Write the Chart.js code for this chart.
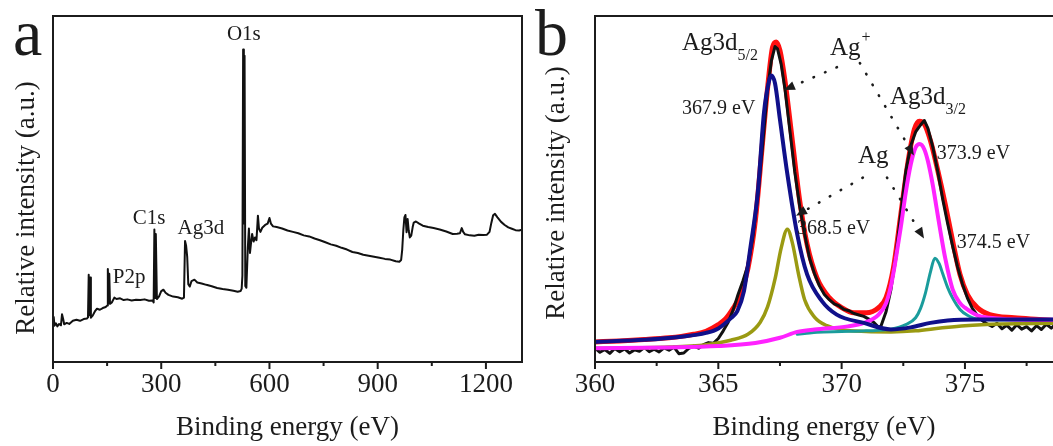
<!DOCTYPE html>
<html lang="en">
<head>
<meta charset="UTF-8">
<title>XPS survey and Ag 3d</title>
<script src="https://cdn.jsdelivr.net/npm/chart.js"></script>
<style>
  html, body { margin: 0; padding: 0; background: #fff; width: 1053px; height: 446px; overflow: hidden; }
  canvas { position: absolute; top: 0; }
  #survey { left: 0; }
  #ag3d { left: 530px; }
</style>
</head>
<body>
<canvas id="survey" width="530" height="446"></canvas>
<canvas id="ag3d" width="523" height="446"></canvas>
<script>
// ---- panel a : survey scan ----
const surveyTicks = [0, 300, 600, 900, 1200];
const surveyEnergy = [0, 2, 4, 8, 12, 17, 22, 25, 28, 31, 38, 45, 55, 65, 75, 85, 94, 97, 99, 101, 103, 105, 110, 116, 122, 130, 138, 146, 150, 152, 154, 156, 158, 163, 170, 176, 186, 196, 206, 218, 230, 242, 254, 266, 276, 279, 281, 283, 285, 288, 294, 300, 306, 312, 320, 333, 346, 358, 363, 366, 369, 372, 375, 379, 384, 392, 400, 412, 425, 440, 455, 470, 485, 500, 512, 520, 523, 525, 527, 529, 531, 533, 536, 540, 543, 546, 549, 552, 556, 560, 564, 568, 571, 575, 580, 588, 595, 600, 604, 610, 620, 635, 650, 665, 680, 695, 710, 725, 740, 755, 770, 785, 800, 815, 830, 845, 860, 875, 890, 905, 920, 935, 950, 960, 965, 968, 971, 974, 977, 980, 983, 986, 989, 993, 997, 1000, 1006, 1015, 1025, 1040, 1055, 1072, 1090, 1108, 1120, 1128, 1133, 1137, 1142, 1155, 1168, 1180, 1192, 1203, 1210, 1215, 1220, 1225, 1232, 1242, 1252, 1262, 1272, 1282, 1292, 1300];
const surveyIntensity = [12.0, 13.0, 10.5, 11.2, 10.3, 11.0, 10.6, 13.8, 12.5, 10.9, 11.3, 11.0, 11.9, 12.2, 11.9, 12.4, 12.6, 12.9, 25.2, 13.5, 24.4, 12.8, 13.4, 14.6, 15.4, 15.1, 15.6, 15.9, 16.3, 26.9, 17.0, 25.5, 16.8, 17.2, 18.6, 18.2, 18.4, 17.9, 18.1, 17.8, 18.0, 17.9, 18.1, 17.7, 17.8, 17.2, 38.3, 18.5, 37.0, 18.2, 19.0, 20.5, 20.9, 20.0, 19.4, 18.9, 18.7, 18.3, 18.6, 35.0, 33.6, 30.4, 22.5, 21.8, 23.4, 23.8, 23.0, 22.7, 22.3, 21.9, 21.4, 21.1, 20.9, 20.6, 20.3, 20.5, 21.2, 25.0, 90.3, 40.0, 88.5, 22.0, 21.5, 33.0, 38.6, 31.5, 34.5, 37.0, 34.8, 36.0, 35.2, 42.3, 38.5, 37.6, 38.8, 39.6, 40.0, 41.6, 40.0, 39.2, 39.0, 38.6, 38.0, 37.6, 37.2, 36.6, 36.3, 35.7, 35.2, 34.6, 34.0, 33.6, 33.0, 32.5, 31.8, 31.5, 31.0, 30.7, 30.4, 30.1, 29.8, 29.6, 29.1, 29.0, 29.5, 32.5, 38.0, 41.8, 42.5, 37.5, 41.3, 38.0, 36.0, 36.5, 39.0, 40.3, 40.6, 40.0, 39.4, 39.0, 38.7, 38.3, 37.7, 37.0, 37.1, 37.2, 38.7, 37.6, 36.9, 36.6, 36.5, 36.8, 36.7, 36.8, 37.6, 40.2, 42.4, 42.8, 41.8, 40.5, 39.6, 38.9, 38.5, 38.1, 38.0, 38.2];

// ---- panel b : Ag 3d high resolution ----
const ag3dTicks = [360, 365, 370, 375];
// measured data (black)
const dataEnergy = [360.0, 360.2, 360.4, 360.6, 360.8, 361.0, 361.2, 361.4, 361.6, 361.8, 362.0, 362.2, 362.4, 362.6, 362.8, 363.0, 363.2, 363.4, 363.6, 363.8, 364.0, 364.2, 364.4, 364.6, 364.8, 365.0, 365.2, 365.4, 365.6, 365.8, 366.0, 366.2, 366.4, 366.6, 366.8, 367.0, 367.15, 367.3, 367.4, 367.55, 367.7, 367.9, 368.1, 368.3, 368.5, 368.7, 368.9, 369.1, 369.3, 369.5, 369.7, 369.9, 370.1, 370.3, 370.5, 370.7, 370.9, 371.1, 371.3, 371.5, 371.6, 371.8, 372.0, 372.2, 372.4, 372.6, 372.8, 373.0, 373.2, 373.35, 373.5, 373.7, 373.9, 374.1, 374.3, 374.5, 374.7, 374.9, 375.1, 375.3, 375.5, 375.7, 375.9, 376.1, 376.3, 376.5, 376.7, 376.9, 377.1, 377.3, 377.5, 377.7, 377.9, 378.1, 378.3, 378.5, 378.6];
const dataIntensity = [4.0, 2.8, 3.6, 2.5, 3.9, 3.0, 3.8, 2.6, 3.5, 3.1, 4.2, 3.0, 3.7, 2.9, 4.1, 3.4, 4.3, 2.4, 2.6, 3.9, 4.6, 4.0, 5.0, 5.6, 5.4, 6.8, 9.0, 11.5, 15.0, 19.5, 23.5, 28.0, 36.0, 48.0, 63.0, 79.0, 87.0, 91.2, 90.5, 86.0, 79.0, 67.0, 55.0, 45.0, 37.0, 30.0, 25.5, 22.0, 19.5, 18.0, 16.8, 16.2, 15.2, 14.8, 14.0, 13.6, 13.2, 12.4, 11.5, 10.0, 10.5, 14.5, 21.0, 31.0, 43.0, 55.0, 62.5, 66.5, 68.5, 69.8, 67.5, 62.0, 55.0, 47.0, 40.0, 33.5, 27.5, 22.5, 18.5, 15.5, 13.5, 12.0, 11.0, 10.3, 11.2, 9.6, 10.6, 9.2, 10.8, 9.5, 10.2, 9.0, 10.5, 9.4, 10.9, 9.8, 10.4];
// fitted envelope (red)
const envelopeEnergy = [360, 361, 362, 363, 363.5, 364, 364.5, 365, 365.3, 365.6, 365.9, 366.2, 366.5, 366.8, 367.0, 367.2, 367.35, 367.5, 367.7, 368.0, 368.3, 368.6, 369.0, 369.5, 370, 370.5, 371, 371.5, 371.8, 372.1, 372.4, 372.7, 372.95, 373.15, 373.35, 373.6, 373.9, 374.2, 374.5, 374.8, 375.1, 375.5, 376, 377, 378, 378.6];
const envelopeIntensity = [5.8, 6.1, 6.5, 7.0, 7.4, 8.0, 8.9, 10.8, 12.5, 15.5, 19.5, 27.0, 40.8, 64.0, 79.4, 91.0, 92.5, 90.0, 81.4, 64.0, 46.6, 34.0, 24.3, 18.6, 15.7, 14.2, 14.2, 15.7, 18.6, 27.2, 42.7, 58.2, 67.3, 69.6, 68.8, 64.0, 55.3, 45.6, 35.0, 25.3, 19.5, 15.7, 13.7, 12.8, 12.3, 12.0];
// Ag+ 3d5/2 (blue)
const agIon52Energy = [360, 362, 363.5, 364.5, 365, 365.5, 365.77, 366.04, 366.3, 366.6, 366.85, 367.05, 367.15, 367.3, 367.5, 367.8, 368.2, 368.6, 369.2, 369.8, 370.9, 372, 372.8, 373.6, 374.3, 375.5, 377, 378.6];
const agIon52Intensity = [5.8, 6.4, 7.3, 8.4, 9.7, 12.6, 14.7, 20.5, 33.0, 49.0, 72.0, 81.0, 82.8, 80.5, 70.0, 54.3, 36.9, 25.3, 17.6, 13.7, 11.3, 9.4, 10.0, 11.3, 12.0, 12.3, 12.3, 12.3];
// Ag0 3d5/2 (olive)
const agMet52Energy = [360, 363, 364.5, 365.5, 366.2, 366.7, 367.0, 367.3, 367.55, 367.8, 368.0, 368.25, 368.5, 368.9, 369.4, 370, 371, 372, 373, 374, 375, 376.5, 378.6];
const agMet52Intensity = [4.0, 4.3, 5.0, 6.3, 8.0, 11.5, 16.0, 24.0, 33.0, 38.4, 34.5, 25.5, 18.0, 13.0, 10.5, 9.3, 8.8, 8.7, 9.0, 9.8, 10.5, 11.0, 11.2];
// Ag+ 3d3/2 (magenta)
const agIon32Energy = [360, 363, 365, 366.5, 367.5, 368.2, 368.9, 370.25, 370.9, 371.5, 371.8, 372.0, 372.2, 372.4, 372.6, 372.8, 373.0, 373.17, 373.35, 373.5, 373.7, 373.85, 374.0, 374.2, 374.5, 374.8, 375.0, 375.5, 376, 377, 378.6];
const agIon32Intensity = [4.0, 4.2, 4.6, 5.5, 7.0, 8.7, 9.4, 10.3, 11.3, 13.7, 17.0, 22.0, 30.0, 39.0, 49.0, 57.0, 62.0, 63.0, 61.5, 58.0, 51.0, 44.5, 38.0, 30.0, 21.0, 17.0, 15.7, 13.5, 12.8, 12.3, 12.2];
// Ag0 3d3/2 (teal)
const agMet32Energy = [368.2, 368.5, 369, 370, 371, 372, 372.6, 373.0, 373.2, 373.4, 373.6, 373.78, 373.95, 374.1, 374.3, 374.5, 374.8, 375.1, 375.5, 376.5, 378.6];
const agMet32Intensity = [8.0, 8.2, 8.6, 8.8, 9.0, 9.5, 10.8, 12.8, 15.5, 20.0, 26.0, 30.0, 28.5, 25.5, 21.5, 18.5, 15.2, 13.5, 12.4, 12.2, 12.2];

const SERIF = '"Liberation Serif", "Times New Roman", serif';
const INK = '#1c1c1c';

function pts(xs, ys) { return xs.map((x, i) => ({ x: x, y: ys[i] })); }

// box, outward ticks, titles, labels and dotted arrows
const decor = {
  id: 'decor',
  afterDraw(chart, args, o) {
    const { ctx, chartArea: a, scales: { x, y } } = chart;
    ctx.save();
    ctx.strokeStyle = INK;
    ctx.fillStyle = INK;
    ctx.lineWidth = 2;
    ctx.beginPath();
    if (o.open) {
      ctx.moveTo(a.right + 2, a.top); ctx.lineTo(a.left, a.top);
      ctx.lineTo(a.left, a.bottom); ctx.lineTo(a.right + 2, a.bottom);
    } else {
      ctx.rect(a.left, a.top, a.right - a.left, a.bottom - a.top);
    }
    ctx.stroke();

    ctx.beginPath();
    x.ticks.forEach(t => {
      const px = x.getPixelForValue(t.value);
      ctx.moveTo(px, a.bottom); ctx.lineTo(px, a.bottom + 7);
    });
    o.minor.forEach(v => {
      const px = x.getPixelForValue(v);
      ctx.moveTo(px, a.bottom); ctx.lineTo(px, a.bottom + 4);
    });
    ctx.stroke();

    // axis titles
    ctx.font = '27px ' + SERIF;
    ctx.textAlign = 'center';
    ctx.textBaseline = 'alphabetic';
    ctx.fillText('Binding energy (eV)', (a.left + a.right) / 2 + o.xTitleShift, 435);
    ctx.save();
    ctx.translate(34, o.yTitleY);
    ctx.rotate(-Math.PI / 2);
    ctx.fillText('Relative intensity (a.u.)', 0, 0);
    ctx.restore();

    // panel letter
    ctx.font = '66px ' + SERIF;
    ctx.textAlign = 'left';
    ctx.fillText(o.letter, o.letterX, 55);

    // peak labels
    o.texts.forEach(t => {
      let px = x.getPixelForValue(t.x);
      const py = y.getPixelForValue(t.y);
      ctx.font = t.size + 'px ' + SERIF;
      ctx.textAlign = t.center ? 'center' : 'left';
      ctx.fillText(t.text, px, py);
      if (t.sub || t.sup) {
        const w = t.center ? ctx.measureText(t.text).width / 2 : ctx.measureText(t.text).width;
        ctx.font = Math.round(t.size * 0.62) + 'px ' + SERIF;
        ctx.textAlign = 'left';
        if (t.sub) ctx.fillText(t.sub, px + w, py + 10);
        if (t.sup) ctx.fillText(t.sup, px + w + 1, py - 13);
      }
    });

    // dotted arrows
    o.arrows.forEach(ar => {
      const x0 = x.getPixelForValue(ar[0]), y0 = y.getPixelForValue(ar[1]);
      const x1 = x.getPixelForValue(ar[2]), y1 = y.getPixelForValue(ar[3]);
      const ang = Math.atan2(y1 - y0, x1 - x0);
      const hx = x1 - 11 * Math.cos(ang), hy = y1 - 11 * Math.sin(ang);
      ctx.save();
      ctx.lineWidth = 2.6;
      ctx.lineCap = 'round';
      ctx.setLineDash([0.5, 12]);
      ctx.beginPath(); ctx.moveTo(x0, y0); ctx.lineTo(hx, hy); ctx.stroke();
      ctx.restore();
      ctx.beginPath();
      ctx.moveTo(x1, y1);
      ctx.lineTo(hx + 4.5 * Math.sin(ang), hy - 4.5 * Math.cos(ang));
      ctx.lineTo(hx - 4.5 * Math.sin(ang), hy + 4.5 * Math.cos(ang));
      ctx.closePath(); ctx.fill();
    });
    ctx.restore();
  }
};

function axisX(min, max, ticks) {
  return {
    type: 'linear', min: min, max: max,
    grid: { display: false, drawTicks: false }, border: { display: false },
    afterBuildTicks: s => { s.ticks = ticks.map(v => ({ value: v })); },
    afterFit: s => { s.height = 84; },
    ticks: {
      font: { family: SERIF, size: 27 }, color: INK, padding: 7, maxRotation: 0,
      autoSkip: false, includeBounds: false,
      callback: v => String(v)
    }
  };
}
function axisY(width) {
  return {
    min: 0, max: 100,
    grid: { display: false, drawTicks: false }, border: { display: false },
    ticks: { display: false },
    afterFit: s => { s.width = width; }
  };
}

new Chart(document.getElementById('survey'), {
  type: 'line',
  data: {
    datasets: [{
      data: pts(surveyEnergy, surveyIntensity),
      borderColor: '#111', borderWidth: 2, pointRadius: 0, tension: 0, borderJoinStyle: 'round'
    }]
  },
  options: {
    responsive: false, animation: false, events: [],
    layout: { padding: { top: 16, right: 8, left: 0, bottom: 0 } },
    plugins: {
      legend: { display: false }, tooltip: { enabled: false },
      decor: {
        open: false, minor: [150, 450, 750, 1050], letter: 'a', letterX: 13,
        yTitleY: 208, xTitleShift: 0, arrows: [],
        texts: [
          { text: 'O1s', x: 529, y: 93, size: 21, center: true },
          { text: 'C1s', x: 266, y: 40, size: 21, center: true },
          { text: 'Ag3d', x: 410, y: 37.1, size: 21, center: true },
          { text: 'P2p', x: 211, y: 22.9, size: 21, center: true }
        ]
      }
    },
    scales: { x: axisX(0, 1300, surveyTicks), y: axisY(53) }
  },
  plugins: [decor]
});

function curve(xs, ys, color, width, order, smooth) {
  return {
    data: pts(xs, ys), borderColor: color, borderWidth: width, pointRadius: 0,
    tension: 0, cubicInterpolationMode: smooth ? 'monotone' : 'default',
    borderJoinStyle: 'round', borderCapStyle: 'round', order: order
  };
}

new Chart(document.getElementById('ag3d'), {
  type: 'line',
  data: {
    datasets: [
      curve(agIon52Energy, agIon52Intensity, '#10108a', 4, 0, true),
      curve(agIon32Energy, agIon32Intensity, '#ff22ff', 4, 1, true),
      curve(agMet32Energy, agMet32Intensity, '#1a9c9c', 3, 2, true),
      curve(agMet52Energy, agMet52Intensity, '#9a9a12', 3.5, 3, true),
      curve(dataEnergy, dataIntensity, '#111', 3, 4, false),
      curve(envelopeEnergy, envelopeIntensity, '#ff1010', 5, 5, true)
    ]
  },
  options: {
    responsive: false, animation: false, events: [],
    layout: { padding: { top: 16, right: 0, left: 0, bottom: 0 } },
    plugins: {
      legend: { display: false }, tooltip: { enabled: false },
      decor: {
        open: true, minor: [362.5, 367.5, 372.5, 377.5], letter: 'b', letterX: 5,
        yTitleY: 193, xTitleShift: 0,
        texts: [
          { text: 'Ag3d', sub: '5/2', x: 363.53, y: 90.1, size: 25 },
          { text: 'Ag', sup: '+', x: 369.53, y: 88.7, size: 25 },
          { text: '367.9 eV', x: 363.53, y: 71.6, size: 20 },
          { text: 'Ag3d', sub: '3/2', x: 371.96, y: 74.5, size: 25 },
          { text: '373.9 eV', x: 373.86, y: 58.8, size: 20 },
          { text: 'Ag', x: 370.66, y: 57.4, size: 25 },
          { text: '368.5 eV', x: 368.19, y: 37.1, size: 20 },
          { text: '374.5 eV', x: 374.67, y: 33, size: 20 }
        ],
        arrows: [
          [369.81, 85.2, 367.66, 78.6],
          [370.74, 86.4, 372.93, 59.7],
          [370.86, 53.3, 368.15, 42.3],
          [371.84, 53.3, 373.34, 35.7]
        ]
      }
    },
    scales: { x: axisX(360, 378.57, ag3dTicks), y: axisY(65) }
  },
  plugins: [decor]
});
</script>
</body>
</html>
